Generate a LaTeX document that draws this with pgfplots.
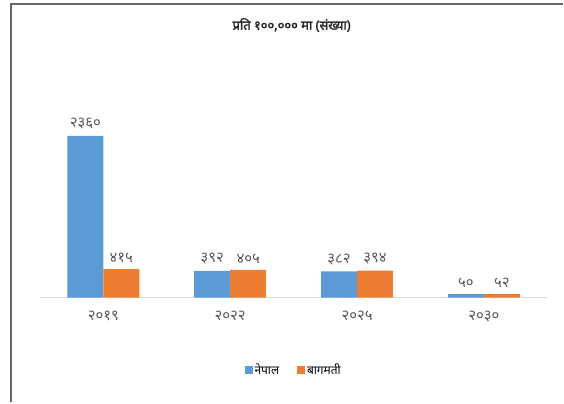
\documentclass[border=0pt]{standalone}
\usepackage{fontspec}
\setmainfont{Noto Sans}[Script=Devanagari]
\newfontfamily\titlefont{Noto Sans}[Script=Devanagari, FakeBold=2]
\usepackage{pgfplots}
\pgfplotsset{compat=1.18}
\definecolor{cblue}{HTML}{5B9BD5}
\definecolor{corange}{HTML}{ED7D31}
\definecolor{txt}{HTML}{595959}
\begin{document}
\begin{tikzpicture}[x=1bp,y=1bp]
\path (-40,-105) rectangle (524,298);
\draw[color=black!60, line width=1.5bp] (-29,-105) -- (-29,294) -- (524,294);
\node[font=\titlefont\fontsize{13}{15}\selectfont, color=black!85] at (252,273) {प्रति १००,००० मा (संख्या)};
\begin{axis}[
  at={(0,0)}, anchor=south west,
  scale only axis, width=508bp, height=171.5bp,
  ymin=0, ymax=2500, xmin=-0.5, xmax=3.5,
  ybar=0pt, bar width=36bp,
  axis y line=none,
  axis x line*=bottom,
  x axis line style={draw=black!15, line width=1bp, -},
  xtick={0,1,2,3},
  xticklabels={२०१९,२०२२,२०२५,२०३०},
  major tick length=0pt,
  xticklabel style={font=\fontsize{15}{17}\selectfont, color=txt, yshift=-10bp},
  ytick=\empty,
  clip=false,
  point meta=explicit symbolic,
  nodes near coords,
  nodes near coords style={font=\fontsize{15}{17}\selectfont, color=txt, yshift=3bp},
  legend style={at={(0.5,-0.42)}, anchor=center, legend columns=2, draw=none,
    font=\fontsize{12}{14}\selectfont, /tikz/every even column/.append style={column sep=16bp}},
  legend image code/.code={\fill[#1] (0bp,-4bp) rectangle (8bp,4bp);},
]
\addplot[fill=cblue, draw=none] coordinates {(0,2360) [२३६०] (1,392) [३९२] (2,382) [३८२] (3,50) [५०]};
\addplot[fill=corange, draw=none] coordinates {(0,415) [४१५] (1,405) [४०५] (2,394) [३९४] (3,52) [५२]};
\legend{नेपाल, बागमती}
\end{axis}
\end{tikzpicture}
\end{document}
